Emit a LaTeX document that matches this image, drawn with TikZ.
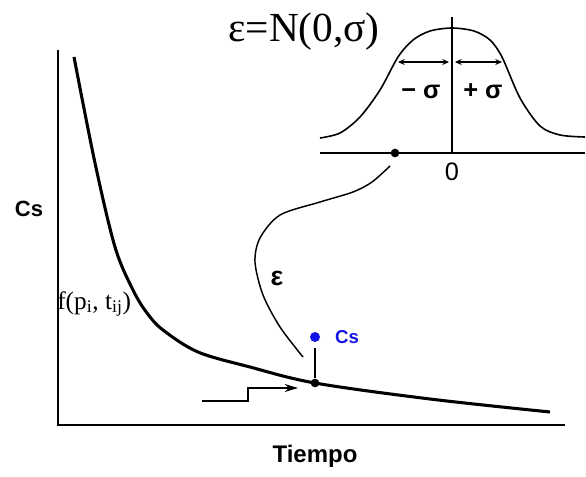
\documentclass[tikz,border=0pt]{standalone}
\usepackage{fontspec}
\setmainfont{Liberation Serif}
\setsansfont{Liberation Sans}
\usepackage{tikz}
\usetikzlibrary{arrows.meta,positioning}
\definecolor{INK}{HTML}{000000}
\definecolor{DOTBLUE}{HTML}{1414E6}

\begin{document}
\begin{tikzpicture}[x=0.75pt, y=-0.75pt,
  axis/.style={line width=1.6pt, draw=INK},
  trend/.style={line width=2.3pt, draw=INK, line join=round},
  wire/.style={line width=1.3pt, draw=INK},
  dot/.style={circle, fill=INK, inner sep=0pt, minimum size=6.5pt},
  lbl/.style={font=\sffamily\bfseries, text=INK, inner sep=0pt},
  gap/.style={{Stealth[length=5pt,width=4.5pt]}-{Stealth[length=5pt,width=4.5pt]}, line width=1.0pt},
]
\useasboundingbox (0,0) rectangle (586,476);

% ---- axes -----------------------------------------------------------------
\coordinate (ytop) at (58,50);
\coordinate (origin) at (58,425);
\coordinate (xend) at (565,425);
\draw[axis] (ytop) -- (origin) -- (xend);
\node[lbl, font=\sffamily\bfseries\fontsize{16.5}{18}\selectfont] (ylbl) at (29,209) {Cs};
\node[lbl, font=\sffamily\bfseries\fontsize{18}{20}\selectfont, anchor=base] (xlbl) at (315,462) {Tiempo};

% ---- fitted curve ---------------------------------------------------------
\draw[trend] plot[smooth, tension=0.55] coordinates {(74,57) (95,163) (115,247) (133,290) (147,313)
  (163,330) (198,352) (250,367) (315,383) (430,399) (550,412)};
\node[anchor=base west, inner sep=0pt, font=\fontsize{19}{21}\selectfont] (flbl) at (57,309)
  {f(p\textsubscript{i}, t\textsubscript{ij})};

% ---- observed point -------------------------------------------------------
\node[dot] (obs) at (315,383) {};
\node[dot, fill=DOTBLUE, minimum size=7.5pt] (cs) at (315,337) {};
\draw[line width=0.8pt, shorten >=4.5pt] (obs) -- (cs);
\node[lbl, text=DOTBLUE, font=\sffamily\bfseries\fontsize{14}{16}\selectfont, right=11pt of cs] (cslbl) {Cs};

% ---- time step ------------------------------------------------------------
\coordinate (stepin) at (202,401);
\coordinate (steptip) at (298,388);
\draw[wire, -{Stealth[length=10pt,width=6pt]}] (stepin) -- (248,401) -- (248,388) -- (steptip);

% ---- error link -----------------------------------------------------------
\node[dot] (gdot) at (395,153) {};
\coordinate (epsfoot) at (303,357);
\coordinate (epstop) at (390,166);
\draw[line width=1.1pt] plot[smooth] coordinates {(epsfoot) (280,327) (263,295) (255,262) (260,238)
  (280,215) (320,202) (353,192) (372,182) (epstop)};
\node[lbl, font=\sffamily\bfseries\fontsize{20}{22}\selectfont] (epslbl) at (277,278) {ε};

% ---- normal distribution --------------------------------------------------
\coordinate (gleft) at (320,153);
\coordinate (gright) at (585,153);
\coordinate (gtop) at (452,17);
\coordinate (gzero) at (452,153);
\draw[wire] (gleft) -- (gright);
\draw[wire] (gtop) -- (gzero);
\draw[line width=1.2pt] plot[smooth] coordinates {(320,138) (340,133) (360,117) (380,90) (398,57)
  (413,40) (430,31) (452,28) (474,31) (490,40) (502,57) (520,98) (540,126) (560,135) (585,137)};
\node[font=\sffamily\fontsize{19}{21}\selectfont, inner sep=0pt] (zero) at (452,172) {0};

\coordinate (msl) at (398,62);
\coordinate (msr) at (449,62);
\coordinate (psl) at (455,62);
\coordinate (psr) at (502,62);
\draw[gap] (msl) -- (msr);
\draw[gap] (psl) -- (psr);
\node[lbl, font=\sffamily\bfseries\fontsize{19}{21}\selectfont, anchor=base] (mlbl) at (421,98) {− σ};
\node[lbl, font=\sffamily\bfseries\fontsize{19}{21}\selectfont, anchor=base] (plbl) at (483,98) {+ σ};

\node[font=\fontsize{31}{35}\selectfont, anchor=base, inner sep=0pt] (title) at (304,41) {ε=N(0,σ)};

\end{tikzpicture}
\end{document}
